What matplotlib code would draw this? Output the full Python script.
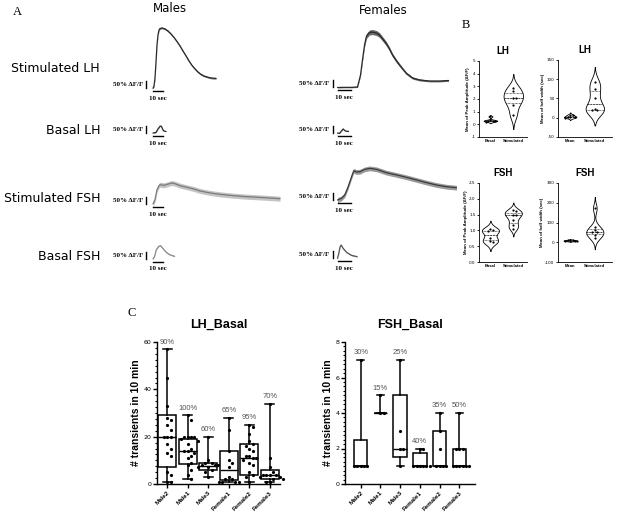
import numpy as np
import matplotlib
matplotlib.use('Agg')
import matplotlib.pyplot as plt
from matplotlib.ticker import MultipleLocator

# ---------------- DATA ----------------
row_labels = ['Stimulated LH', 'Basal LH', 'Stimulated FSH', 'Basal FSH']
col_labels = ['Males', 'Females']

# Panel A traces: time (s) and mean dF/F (%)
m_stimLH_t = [0, 1, 2, 3, 4, 5, 6, 7, 9, 12, 15, 18, 21, 24, 27, 30, 33, 36, 39, 42, 45, 48, 51, 54, 57, 60, 63]
m_stimLH_v = [0, 16, 74, 188, 309, 381, 416, 427, 431, 424, 409, 388, 363, 334, 302, 266, 231, 195, 163, 138, 116, 99, 88, 81, 75, 72, 71]
m_stimLH_sem = 6

m_basLH_t = [0, 3, 5, 7, 8, 9, 10, 11, 13]
m_basLH_v = [0, 4, 29, 48, 50, 39, 21, 14, 11]
m_basLH_sem = 2

m_stimFSH_t = [0, 2, 4, 6, 7, 11, 14, 19, 22, 27, 34, 41, 47, 57, 67, 81, 94, 107, 127]
m_stimFSH_v = [0, 31, 102, 131, 138, 133, 140, 150, 145, 131, 119, 107, 93, 79, 69, 59, 52, 47, 38]
m_stimFSH_sem = 18

m_basFSH_t = [0, 1.6, 3.3, 5.6, 7.6, 10, 13.3, 16.6, 21.6]
m_basFSH_v = [0, 19, 66, 90, 95, 74, 47, 31, 19]
m_basFSH_sem = 4

f_stimLH_t = [0, 5.4, 10.8, 15.4, 17.7, 19.2, 20.8, 22.3, 24.6, 26.9, 30, 32.3, 35.4, 37.7, 40, 42.3, 45.4, 47.7, 50.8, 53.1, 57.7, 63.1, 70.8, 78.5, 85.4]
f_stimLH_v = [0, 1, 1, 4, 89, 196, 304, 368, 393, 396, 389, 375, 339, 311, 275, 232, 189, 161, 125, 100, 68, 54, 46, 46, 50]
f_stimLH_sem = [3, 3, 3, 4, 8, 12, 15, 18, 18, 18, 18, 17, 16, 15, 14, 13, 12, 11, 10, 9, 8, 7, 6, 6, 6]

f_basLH_t = [0, 1.5, 3, 4.4, 5.5, 7, 8.5]
f_basLH_v = [0, -3, 14, 29, 18, 12, 12]
f_basLH_sem = 2

f_stimFSH_t = [0, 3.1, 5.6, 8.2, 10.8, 12.5, 14.6, 17.2, 21, 24.8, 30, 37.7, 45.4, 53.1, 60.8, 68.5, 76.2, 83.8, 91.5]
f_stimFSH_v = [0, 12, 36, 95, 166, 209, 200, 202, 219, 226, 219, 195, 179, 162, 143, 124, 107, 95, 88]
f_stimFSH_sem = 17

f_basFSH_t = [0, 1, 2, 2.8, 4.3, 6.9, 10.8, 15.1]
f_basFSH_v = [0, 36, 83, 95, 71, 43, 21, 12]
f_basFSH_sem = 4

scale_pct = 50     # vertical scale bar (% dF/F)
scale_sec = 10     # horizontal scale bar (s)

# Panel B violins
lh_peak_basal = [0.62, 0.35, 0.30, 0.28, 0.25, 0.20]
lh_peak_stim = [2.85, 2.60, 2.10, 2.05, 1.55, 0.75]
lh_half_basal = [8, 6, 3, 2, 1, 0]
lh_half_stim = [92, 75, 50, 22, 21, 20]
fsh_peak_basal = [1.03, 1.00, 0.97, 0.75, 0.66, 0.62]
fsh_peak_stim = [1.63, 1.60, 1.50, 1.48, 1.33, 1.17, 1.06]
fsh_half_basal = [12, 10, 9, 8, 7, 6]
fsh_half_stim = [172, 78, 60, 52, 50, 35, 22]

# Panel C box plots
cats = ['Male2', 'Male1', 'Male3', 'Female1', 'Female2', 'Female3']
lh_pts = [
    [57, 45, 33, 28, 27, 25, 23, 20, 20, 20, 17, 15, 13, 12, 5, 4, 1, 1],
    [29, 27, 20, 20, 20, 20, 19, 18, 17, 15, 14, 14, 13, 12, 11, 9, 8, 6, 4, 2],
    [20, 10, 9, 9, 8, 8, 8, 7, 7, 6, 5, 3],
    [28, 23, 14, 10, 9, 7, 3, 2, 2, 1, 1, 1, 1],
    [25, 24, 21, 18, 17, 16, 15, 14, 12, 12, 11, 11, 10, 9, 8, 5, 4, 3, 1],
    [34, 11, 7, 5, 4, 4, 4, 4, 3, 3, 2, 2, 1, 1],
]
lh_q1 = [7, 8.5, 6, 1.5, 4, 2]
lh_med = [20, 14, 7.5, 6, 11, 4]
lh_q3 = [29, 19, 9, 14, 17, 6]
lh_lo = [1, 2, 3, 1, 1, 1]
lh_hi = [57, 29, 20, 28, 25, 34]
lh_pct = ['90%', '100%', '60%', '65%', '95%', '70%']

fsh_pts = [
    [7, 1, 1, 1, 1, 1],
    [5, 4, 4],
    [7, 3, 2, 2, 1],
    [2, 2, 1, 1, 1, 1, 1, 1],
    [4, 3, 2, 1, 1, 1, 1],
    [4, 2, 2, 2, 1, 1, 1, 1, 1, 1],
]
fsh_q1 = [1, 4, 1.5, 1, 1, 1]
fsh_med = [1, 4, 2, 1, 1, 1]
fsh_q3 = [2.5, 4, 5, 1.75, 3, 2]
fsh_lo = [1, 4, 1, 1, 1, 1]
fsh_hi = [7, 5, 7, 2, 4, 4]
fsh_pct = ['30%', '15%', '25%', '40%', '35%', '50%']

# ---------------- FIGURE ----------------
W, H = 617, 514
fig = plt.figure(figsize=(W / 100, H / 100), dpi=100)
fig.patch.set_facecolor('white')
SANS = 'Liberation Sans'
SERIF = 'Liberation Serif'


def px_axes(x0, y0, x1, y1):
    return fig.add_axes([x0 / W, 1 - y1 / H, (x1 - x0) / W, (y1 - y0) / H])


def ftext(x, y, s, **kw):
    fig.text(x / W, 1 - y / H, s, **kw)


# panel letters & headers
ftext(13, 12, 'A', fontsize=9, family=SERIF, va='center', ha='left')
ftext(462, 25, 'B', fontsize=9, family=SERIF, va='center', ha='left')
ftext(128, 313, 'C', fontsize=9, family=SERIF, va='center', ha='left')
ftext(170, 8, col_labels[0], fontsize=8.5, family='DejaVu Sans', ha='center', va='center')
ftext(383, 10, col_labels[1], fontsize=8.5, family='DejaVu Sans', ha='center', va='center')
for lab, yy in zip(row_labels, [68, 131, 199, 256]):
    ftext(100, yy, lab, fontsize=9, family='DejaVu Sans', ha='right', va='center')

# ---------------- Panel A ----------------
PPCT = 7 / 50.0  # px per % dF/F


def draw_trace(ox, oy, pxs, t, v, sem, lc, bc, bar_off):
    ax = px_axes(ox - 50, oy - 75, ox + 135, oy + 18)
    ax.set_xlim(-50 / pxs, 135 / pxs)
    ax.set_ylim(-18 / PPCT, 75 / PPCT)
    ax.axis('off')
    ax.patch.set_visible(False)
    t = np.asarray(t, float)
    v = np.asarray(v, float)
    s = np.broadcast_to(np.asarray(sem, float), v.shape)
    ax.fill_between(t, v - s, v + s, color=bc, lw=0)
    ax.plot(t, v, color=lc, lw=0.9, solid_capstyle='round')
    bx = -bar_off / pxs
    ax.plot([bx, bx], [2, 2 + scale_pct], color='black', lw=1.0)
    ax.text(bx - 3 / pxs, 2 + scale_pct / 2, '50% \u0394F/F', fontsize=5, family=SERIF,
            fontweight='bold', ha='right', va='center')
    yb = -3 / PPCT
    ax.plot([0, scale_sec], [yb, yb], color='black', lw=1.0)
    ax.text(scale_sec / 2, -10 / PPCT, '10 sec', fontsize=5, family=SERIF,
            fontweight='bold', ha='center', va='center')


M_OX, F_OX = 153, 337.5
M_PXS, F_PXS = 1.0, 1.3
draw_trace(M_OX, 88.3, M_PXS, m_stimLH_t, m_stimLH_v, m_stimLH_sem, '#2a2a2a', '#777777', 7)
draw_trace(F_OX, 87.5, F_PXS, f_stimLH_t, f_stimLH_v, f_stimLH_sem, '#2a2a2a', '#6a6a6a', 5)
draw_trace(M_OX, 133, M_PXS, m_basLH_t, m_basLH_v, m_basLH_sem, '#2a2a2a', '#888888', 7)
draw_trace(F_OX, 133, F_PXS, f_basLH_t, f_basLH_v, f_basLH_sem, '#2a2a2a', '#888888', 5)
draw_trace(M_OX, 204, M_PXS, m_stimFSH_t, m_stimFSH_v, m_stimFSH_sem, '#7a7a7a', '#c4c4c4', 7)
draw_trace(F_OX, 200, F_PXS, f_stimFSH_t, f_stimFSH_v, f_stimFSH_sem, '#3a3a3a', '#9a9a9a', 5)
draw_trace(M_OX, 259, M_PXS, m_basFSH_t, m_basFSH_v, m_basFSH_sem, '#8a8a8a', '#cccccc', 7)
draw_trace(F_OX, 258.3, F_PXS, f_basFSH_t, f_basFSH_v, f_basFSH_sem, '#555555', '#aaaaaa', 5)


# ---------------- helpers ----------------
def swarm(vals, ypx, xpx, dx0=3.2, dy0=5.0):
    vals = np.asarray(vals, float)
    order = np.argsort(-vals, kind='stable')
    steps = [0]
    for k in range(1, 10):
        steps += [k, -k]
    placed = []
    offs = np.zeros(len(vals))
    for idx in order:
        y = vals[idx] * ypx
        for s in steps:
            x = s * dx0
            if all(((x - px) / dx0) ** 2 + ((y - py) / dy0) ** 2 >= 0.99 for px, py in placed):
                break
        placed.append((x, y))
        offs[idx] = x / xpx
    return offs


def style_axes(ax, lw, tl, labsize):
    for sp in ['top', 'right']:
        ax.spines[sp].set_visible(False)
    for sp in ['left', 'bottom']:
        ax.spines[sp].set_linewidth(lw)
    ax.tick_params(direction='out', length=tl, width=lw, labelsize=labsize, pad=1)
    ax.patch.set_visible(False)


# ---------------- Panel B ----------------
def kde_stats(vals, bw, cut=2.5, n=120):
    v = np.asarray(vals, float)
    lo, hi = v.min() - cut * bw, v.max() + cut * bw
    coords = np.linspace(lo, hi, n)
    dens = np.exp(-0.5 * ((coords[:, None] - v[None, :]) / bw) ** 2).sum(1)
    return dict(coords=coords, vals=dens, mean=v.mean(), median=np.median(v), min=lo, max=hi)


def violin_panel(box, groups, bws, widths, xlabels, ylim, yticks, ylabel, title, xlim, tick_fmt):
    x0, y0, x1, y1 = box
    ax = px_axes(x0, y0, x1, y1)
    stats = [kde_stats(g, b) for g, b in zip(groups, bws)]
    parts = ax.violin(stats, positions=[0, 1], widths=widths, showmeans=False,
                      showextrema=False, showmedians=False)
    for pc in parts['bodies']:
        pc.set_facecolor('white')
        pc.set_edgecolor('black')
        pc.set_linewidth(0.6)
        pc.set_alpha(1)
    ypx = (y1 - y0) / (ylim[1] - ylim[0])
    xpx = (x1 - x0) / (xlim[1] - xlim[0])
    for i, (g, st, w) in enumerate(zip(groups, stats, widths)):
        dmax = st['vals'].max()
        for q, ls in zip([25, 50, 75], [(0, (1, 1)), (0, (3, 1)), (0, (1, 1))]):
            yq = np.percentile(g, q)
            hw = np.interp(yq, st['coords'], st['vals']) / dmax * w / 2
            ax.plot([i - hw, i + hw], [yq, yq], color='black', lw=0.5, linestyle=ls)
        offs = swarm(g, ypx, xpx, dx0=2.4, dy0=2.4)
        ax.plot(i + offs, g, 'o', ms=1.6, color='black', mew=0, zorder=5)
    ax.set_xlim(*xlim)
    ax.set_ylim(*ylim)
    ax.set_yticks(yticks)
    ax.set_yticklabels([tick_fmt(t) for t in yticks])
    ax.set_xticks([0, 1])
    ax.set_xticklabels(xlabels, fontsize=5.5, fontweight='bold', family=SANS)
    style_axes(ax, 0.6, 1.5, 3)
    ax.tick_params(axis='x', length=0, pad=1.5)
    ax.set_ylabel(ylabel, fontsize=3.2, fontweight='bold', family=SANS, labelpad=1)
    ax.set_title(title, fontsize=7, fontweight='bold', family=SANS, pad=5)
    return ax


violin_panel((479, 61, 527, 137), [lh_peak_basal, lh_peak_stim], [0.05, 0.45], [0.6, 0.85],
             ['Basal', 'Stimulated'], (-1, 5), [-1, 0, 1, 2, 3, 4, 5],
             'Mean of Peak Amplitude (\u0394F/F)', 'LH', (-0.5, 1.6), lambda t: f'{t:d}')
violin_panel((558, 60, 612, 137), [lh_half_basal, lh_half_stim], [2.5, 16], [0.5, 0.75],
             ['Mean', 'Stimulated'], (-50, 150), [-50, 0, 50, 100, 150],
             'Mean of half width (sec)', 'LH', (-0.5, 1.7), lambda t: f'{t:d}')
violin_panel((479, 183, 527, 262), [fsh_peak_basal, fsh_peak_stim], [0.11, 0.1], [0.75, 0.75],
             ['Basal', 'Stimulated'], (0, 2.5), [0, 0.5, 1.0, 1.5, 2.0, 2.5],
             'Mean of Peak Amplitude (\u0394F/F)', 'FSH', (-0.5, 1.6), lambda t: f'{t:.1f}')
violin_panel((558, 183, 612, 262), [fsh_half_basal, fsh_half_stim], [2, 23], [0.55, 0.7],
             ['Mean', 'Stimulated'], (-100, 300), [-100, 0, 100, 200, 300],
             'Mean of half width (sec)', 'FSH', (-0.5, 1.7), lambda t: f'{t:d}')


# ---------------- Panel C ----------------
def box_panel(box, pts, q1, med, q3, lo, hi, pct, ylim, major, minor, xlim, width, capw,
              pct_off, title):
    x0, y0, x1, y1 = box
    ax = px_axes(x0, y0, x1, y1)
    stats = [dict(med=m, q1=a, q3=b, whislo=l, whishi=h, fliers=[])
             for a, m, b, l, h in zip(q1, med, q3, lo, hi)]
    ax.bxp(stats, positions=list(range(len(cats))), widths=width, capwidths=capw,
           patch_artist=True, showfliers=False,
           boxprops=dict(facecolor='white', edgecolor='black', linewidth=1.1),
           whiskerprops=dict(color='black', linewidth=1.1),
           capprops=dict(color='black', linewidth=1.1),
           medianprops=dict(color='black', linewidth=1.0))
    ypx = (y1 - y0) / (ylim[1] - ylim[0])
    xpx = (x1 - x0) / (xlim[1] - xlim[0])
    for i, p in enumerate(pts):
        offs = swarm(p, ypx, xpx, dx0=3.3, dy0=5.5)
        ax.plot(i + offs, p, 'o', ms=2.3, color='black', mew=0, zorder=6, clip_on=False)
    for i, (h, s) in enumerate(zip(hi, pct)):
        ax.text(i, h + pct_off, s, ha='center', va='center', fontsize=5.5,
                color='#555555', family=SANS)
    ax.set_xlim(*xlim)
    ax.set_ylim(*ylim)
    ax.yaxis.set_major_locator(MultipleLocator(major))
    ax.yaxis.set_minor_locator(MultipleLocator(minor))
    ax.set_xticks(list(range(len(cats))))
    ax.set_xticklabels(cats, rotation=45, ha='right', rotation_mode='anchor',
                       fontsize=6, fontweight='bold', family=SANS)
    style_axes(ax, 1.0, 3, 4.5)
    ax.tick_params(axis='y', which='minor', length=1.5, width=0.8)
    ax.tick_params(axis='x', length=3, pad=1.5)
    ax.set_ylabel('# transients in 10 min', fontsize=7.5, fontweight='bold', family=SANS,
                  labelpad=2)
    ax.set_title(title, fontsize=9, fontweight='bold', family=SANS, pad=10)
    return ax


box_panel((157, 342, 280, 484), lh_pts, lh_q1, lh_med, lh_q3, lh_lo, lh_hi, lh_pct,
          (0, 60), 20, 2.5, (-0.5, 5.5), 0.86, 0.45, 3.0, 'LH_Basal')
box_panel((345, 342, 475, 484), fsh_pts, fsh_q1, fsh_med, fsh_q3, fsh_lo, fsh_hi, fsh_pct,
          (0, 8), 2, 0.25, (-0.8, 5.8), 0.68, 0.35, 0.4, 'FSH_Basal')

fig.savefig('out.png', dpi=100, facecolor='white')
